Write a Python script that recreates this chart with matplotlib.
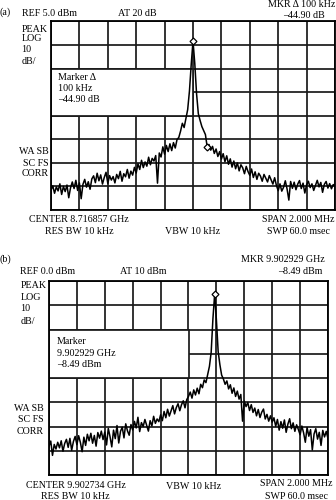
import matplotlib
matplotlib.use("Agg")
import matplotlib.pyplot as plt
from matplotlib.patches import Rectangle
import numpy as np

plt.rcParams['font.family'] = ['Liberation Serif', 'DejaVu Serif']

W, H = 336, 500

# sweep axis: offset from centre frequency in MHz (span 2 MHz, 161 points)
freq = np.linspace(-1.0, 1.0, 161)

# panel (a) trace, dBm
trace_a = [-66.5, -64.8, -67.9, -65.2, -66.9, -63.9, -68.4, -65.0, -67.2, -64.4, -69.8, -65.6,
           -63.1, -65.9, -62.4, -66.7, -63.5, -70.2, -64.1, -62.0, -65.3, -63.0, -66.2, -61.8,
           -60.5, -63.4, -59.4, -62.6, -60.1, -64.0, -61.2, -59.0, -63.7, -60.4, -62.3, -60.8,
           -63.5, -59.9, -61.7, -58.6, -62.8, -59.6, -60.9, -57.8, -61.5, -58.5, -60.2, -56.9,
           -59.3, -55.4, -57.8, -53.9, -57.0, -54.6, -56.4, -52.6, -55.8, -53.1, -54.2, -51.9,
           -63.6, -50.8, -52.5, -48.2, -51.3, -47.6, -50.2, -46.9, -49.8, -46.4, -48.7, -45.1, -44.2, -41.5,
           -38.2, -40.0, -36.1, -32.4, -24.5, -13.2, -3.3,
           -12.8, -25.6, -34.1, -37.0, -39.6, -41.3, -43.0, -48.3,
           -47.2, -49.6, -48.0, -51.0, -49.1, -52.3, -50.2, -53.4, -51.1, -54.5, -52.0, -55.6,
           -53.3, -56.8, -54.2, -57.5, -55.0, -58.4, -55.8, -57.1, -59.6, -56.5, -58.7, -60.3,
           -57.6, -61.2, -58.8, -62.0, -59.4, -60.6, -62.8, -59.9, -61.5, -63.1, -60.4, -62.2, -64.0, -61.3,
           -64.6, -66.8, -63.9, -67.0, -65.4, -62.6, -66.1, -70.8,
           -62.9, -65.8, -63.2, -66.4, -64.0, -62.5, -65.9, -63.6, -67.8, -64.3, -62.8, -65.5, -63.9,
           -66.7, -64.6, -62.4, -65.2, -63.3, -67.5, -64.1, -62.9, -65.7, -63.8, -66.0, -64.2, -65.0]

# panel (b) trace, dBm
trace_b = [-68.2, -66.0, -71.9, -67.4, -69.3, -66.5, -68.8, -65.9, -70.2, -67.0, -65.3, -68.6, -64.9, -69.8, -66.2, -64.1,
           -67.5, -63.8, -66.6, -70.4, -64.4, -67.8, -63.2, -65.9, -62.8, -66.9, -63.7, -68.1, -62.5, -64.8, -61.9, -65.4,
           -62.3, -67.6, -60.8, -64.2, -68.4, -61.5, -65.0, -59.6, -66.8, -62.0, -60.3, -64.7, -58.9, -61.8, -63.6, -59.2,
           -61.4, -57.9, -60.6, -56.2, -62.1, -58.4, -60.0, -57.1, -59.5, -61.9, -57.6, -59.8, -55.8, -58.7, -56.9, -58.0,
           -55.2, -57.6, -53.8, -56.4, -52.9, -55.7, -53.6, -51.4, -54.8, -52.2, -50.6, -53.5, -51.0, -49.4, -52.3, -48.9,
           -47.6, -45.8, -48.3, -44.9, -47.0, -44.2, -46.5, -42.6, -44.0, -40.8, -41.9,
           -38.6, -35.2, -29.4, -15.6, -5.5, -16.0, -29.0, -34.5, -38.8,
           -40.4, -42.6, -41.2, -44.5, -42.8, -46.3, -44.1, -47.6, -45.4, -48.7, -46.8, -57.8,
           -49.5, -51.8, -50.1, -53.4, -51.0, -54.2, -52.4, -55.6, -53.0, -56.3, -54.1, -52.8, -56.9, -55.0, -57.8, -55.6,
           -58.2, -56.4, -59.9, -57.1, -61.5, -58.0, -60.7, -57.3, -62.4, -59.0, -56.8, -60.9, -58.5, -62.0, -59.3, -61.2,
           -63.4, -59.8, -62.6, -66.5, -60.4, -64.0, -61.3, -69.7, -63.1, -60.9, -65.2, -62.4, -67.8, -61.6, -64.3, -62.0, -65.0]

ref_a, ref_b = 5.0, 0.0
marker_a = [88]   # delta marker, 100 kHz right of peak
peak_a = [80]
peak_b = [95]

fig = plt.figure(figsize=(W / 100, H / 100), dpi=100)


def px_axes(left, top, right, bottom):
    return fig.add_axes([left / W, 1 - bottom / H, (right - left) / W, (bottom - top) / H])


def screen(ax, ref, trace, marks, box_top):
    ax.set_xlim(-1, 1)
    ax.set_ylim(ref - 80, ref)
    ax.set_xticks(np.arange(-1, 1.01, 0.2))
    ax.set_yticks(np.arange(ref - 80, ref + 0.1, 10))
    ax.tick_params(length=0, labelbottom=False, labelleft=False)
    ax.set_axisbelow(True)
    ax.grid(True, color='#1a1a1a', lw=1.25)
    for s in ax.spines.values():
        s.set_linewidth(1.3)
    # white annotation box over the left half of the screen
    ax.add_patch(Rectangle((-1, box_top - 20), 1, 20, facecolor='white',
                           edgecolor='#1a1a1a', lw=1.25, zorder=1))
    t = np.array(trace)
    ax.plot(freq, t, color='black', lw=1.1, zorder=3)
    ax.plot(freq[marks], t[marks], 'D', ms=3.5, mfc='white', mec='black', mew=0.9, zorder=4)


ax_a = px_axes(51, 21.5, 335, 210)
screen(ax_a, ref_a, trace_a, peak_a + marker_a, ref_a - 20)
ax_b = px_axes(49, 281, 328, 475)
screen(ax_b, ref_b, trace_b, peak_b, ref_b - 20)

fs = 7.2


def txt(x, y, s, ha='left'):
    fig.text(x / W, 1 - y / H, s, ha=ha, va='center', fontsize=fs)


# panel (a) labels
txt(0, 12.5, '(a)')
txt(21.5, 14, 'REF 5.0 dBm')
txt(118, 14, 'AT 20 dB')
txt(335, 4.5, 'MKR \u0394 100 kHz', ha='right')
txt(325, 15, '\u201344.90 dB', ha='right')
for yy, s in zip([29.5, 38.5, 49.5, 61], ['PEAK', 'LOG', '10', 'dB/']):
    txt(21.5, yy, s)
for yy, s in zip([78, 89, 100], ['Marker \u0394', '100 kHz', '\u201344.90 dB']):
    txt(58, yy, s)
for yy, s in zip([151, 163, 174], ['WA SB', 'SC FS', 'CORR']):
    txt(49, yy, s, ha='right')
txt(79, 220, 'CENTER 8.716857 GHz', ha='center')
txt(79, 231, 'RES BW 10 kHz', ha='center')
txt(193, 231, 'VBW 10 kHz', ha='center')
txt(335, 220, 'SPAN 2.000 MHz', ha='right')
txt(330, 231, 'SWP 60.0 msec', ha='right')

# panel (b) labels
txt(0, 259, '(b)')
txt(325, 259, 'MKR 9.902929 GHz', ha='right')
txt(322, 271, '\u20138.49 dBm', ha='right')
txt(20.5, 272, 'REF 0.0 dBm')
txt(120, 272, 'AT 10 dBm')
for yy, s in zip([285, 297, 308.5, 321], ['PEAK', 'LOG', '10', 'dB/']):
    txt(20.5, yy, s)
for yy, s in zip([341, 353, 364.5], ['Marker', '9.902929 GHz', '\u20138.49 dBm']):
    txt(57, yy, s)
for yy, s in zip([408.5, 420, 432], ['WA SB', 'SC FS', 'CORR']):
    txt(44, yy, s, ha='right')
txt(75.5, 485, 'CENTER 9.902734 GHz', ha='center')
txt(75.5, 496.5, 'RES BW 10 kHz', ha='center')
txt(194, 486.5, 'VBW 10 kHz', ha='center')
txt(333, 483, 'SPAN 2.000 MHz', ha='right')
txt(328, 496.5, 'SWP 60.0 msec', ha='right')

fig.savefig('out.png', dpi=100)
